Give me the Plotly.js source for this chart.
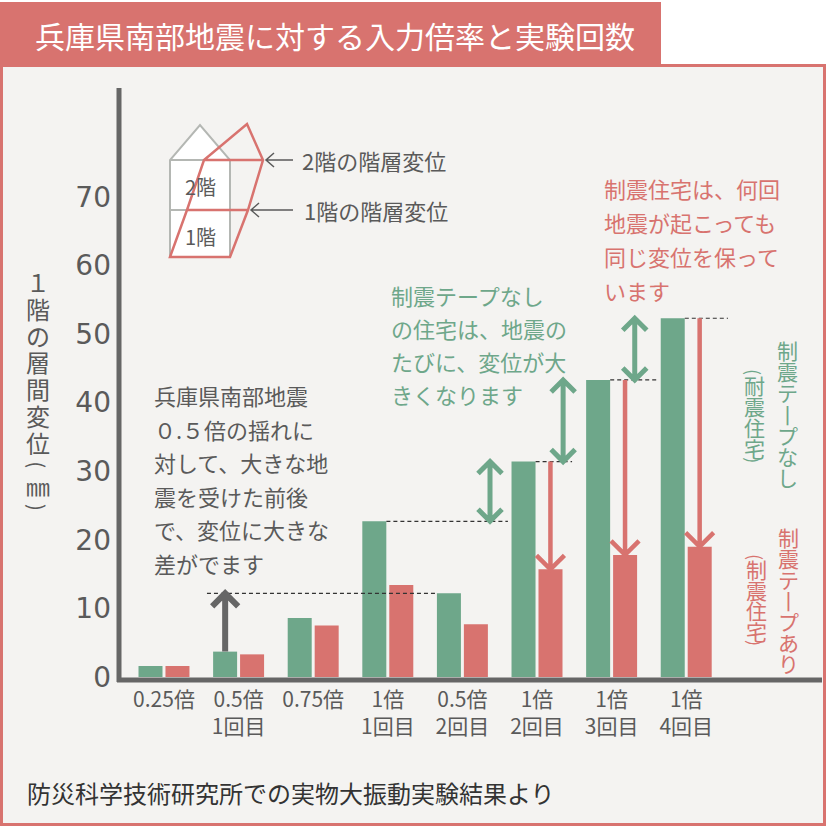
<!DOCTYPE html>
<html>
<head>
<meta charset="utf-8">
<script src="https://cdn.plot.ly/plotly-3.0.1.min.js"></script>
<style>
  html, body { margin: 0; padding: 0; background: #fff; }
  #chart { width: 826px; height: 826px; }
</style>
</head>
<body>
<div id="chart"></div>
<script>
// 入力倍率と実験回数（目盛り2段）
var rowTop = ['0.25倍', '0.5倍', '0.75倍', '1倍', '0.5倍', '1倍', '1倍', '1倍'];
var rowBottom = ['', '1回目', '', '1回目', '2回目', '2回目', '3回目', '4回目'];
// 1階の層間変位（mm）
var withoutTape = [1.6, 3.7, 8.6, 22.7, 12.2, 31.4, 43.3, 52.3];
var withTape = [1.6, 3.3, 7.5, 13.4, 7.7, 15.7, 17.8, 19.0];
var yTicks = [0, 10, 20, 30, 40, 50, 60, 70];

var GREEN = '#6ea78a', RED = '#d8736f', TEXT = '#5a5a5a', AXIS = '#666666';
var JP = '"Noto Sans CJK JP", "Noto Sans", sans-serif';
var W = 826;

var xRange = [-0.603, 8.82], yRange = [0, 85.57];
var plotL = 119, plotR = 822, plotT = 90, plotB = 677;
var PX_X = (xRange[1] - xRange[0]) / (plotR - plotL);
var PX_Y = (yRange[1] - yRange[0]) / (plotB - plotT);
var OFF = 0.18;   // 棒の中心のずれ（カテゴリ単位）

function px(x) { return x / W; }
function py(y) { return 1 - y / W; }

var idx = rowTop.map(function (_, i) { return i; });
var tickText = rowTop.map(function (t, i) {
    return rowBottom[i] ? t + '<br>' + rowBottom[i] : t;
});

var data = [{
    type: 'bar', x: idx, y: withoutTape, name: '制震テープなし',
    marker: { color: GREEN }, hoverinfo: 'skip'
}, {
    type: 'bar', x: idx, y: withTape, name: '制震テープあり',
    marker: { color: RED }, hoverinfo: 'skip'
}];

var shapes = [];
var annotations = [];

// 枠とタイトル帯
shapes.push({ type: 'rect', xref: 'paper', yref: 'paper', layer: 'below',
    x0: px(1.5), x1: px(824.5), y0: py(824.5), y1: py(65.5),
    fillcolor: '#f4f3f1', line: { color: RED, width: 3 } });
shapes.push({ type: 'rect', xref: 'paper', yref: 'paper', layer: 'below',
    x0: px(0), x1: px(661), y0: py(64), y1: py(2),
    fillcolor: RED, line: { width: 0 } });

// 軸線
shapes.push({ type: 'line', xref: 'paper', yref: 'paper', x0: px(119), x1: px(119),
    y0: py(88), y1: py(682), line: { color: AXIS, width: 5 } });
shapes.push({ type: 'line', xref: 'paper', yref: 'paper', x0: px(117), x1: px(822),
    y0: py(680), y1: py(680), line: { color: AXIS, width: 5 } });

// ピクセル座標の折れ線をpaper座標のpathに
function pathPx(pts, close) {
    var d = pts.map(function (p, i) {
        return (i ? 'L' : 'M') + px(p[0]) + ',' + py(p[1]);
    }).join(' ');
    return close ? d + ' Z' : d;
}

// 家のイラスト
shapes.push({ type: 'path', xref: 'paper', yref: 'paper',
    path: pathPx([[170, 257], [230, 257], [230, 160], [200, 125], [170, 160]], true),
    fillcolor: '#ffffff', line: { color: '#b4b7b3', width: 2 } });
shapes.push({ type: 'path', xref: 'paper', yref: 'paper',
    path: pathPx([[170, 210], [230, 210]]) + ' ' + pathPx([[170, 160], [230, 160]]),
    line: { color: '#b4b7b3', width: 2 } });
shapes.push({ type: 'path', xref: 'paper', yref: 'paper',
    path: pathPx([[170, 257], [187, 210], [204, 160], [247, 124], [263, 160], [248, 210], [230, 257]], true) +
        ' ' + pathPx([[187, 210], [248, 210]]) + ' ' + pathPx([[204, 160], [263, 160]]),
    line: { color: RED, width: 2.5 } });
shapes.push({ type: 'path', xref: 'paper', yref: 'paper',
    path: pathPx([[293, 160], [266, 160]]) + ' ' + pathPx([[274, 153], [266, 160], [274, 167]]),
    line: { color: TEXT, width: 1.5 } });
shapes.push({ type: 'path', xref: 'paper', yref: 'paper',
    path: pathPx([[293, 210], [251, 210]]) + ' ' + pathPx([[259, 203], [251, 210], [259, 217]]),
    line: { color: TEXT, width: 1.5 } });

// データ座標の矢印
function chevron(x, y, dir, halfW, h) {
    var yb = y - dir * h * PX_Y;
    return 'M' + (x - halfW * PX_X) + ',' + yb + ' L' + x + ',' + y + ' L' + (x + halfW * PX_X) + ',' + yb;
}
function dashed(x0, x1, y) {
    shapes.push({ type: 'line', xref: 'x', yref: 'y', x0: x0, x1: x1, y0: y, y1: y,
        line: { color: '#333333', width: 1.2, dash: '4px,3px' } });
}
function arrow(x, yFrom, yTo, color, width, size, both) {
    var dir = yTo > yFrom ? 1 : -1;
    var d = 'M' + x + ',' + yFrom + ' L' + x + ',' + yTo + ' ' + chevron(x, yTo, dir, size, size);
    if (both) d += ' ' + chevron(x, yFrom, -dir, size, size);
    shapes.push({ type: 'path', xref: 'x', yref: 'y', path: d, line: { color: color, width: width } });
}

dashed(0.576, 4 - OFF - 0.161, withoutTape[4]);
dashed(3 - OFF + 0.161, 4.61, withoutTape[3]);
dashed(5 - OFF + 0.161, 5.47, withoutTape[5]);
dashed(6 - OFF + 0.161, 6.61, withoutTape[6]);
dashed(7 - OFF + 0.161, 7.56, withoutTape[7]);

arrow(1 - OFF, withoutTape[1], withoutTape[4], AXIS, 6, 13, false);
arrow(4.37, withoutTape[3], withoutTape[5], GREEN, 5, 12, true);
arrow(5.35, withoutTape[5], withoutTape[6], GREEN, 5, 12, true);
arrow(6.31, withoutTape[6], withoutTape[7], GREEN, 5, 12, true);
[5, 6, 7].forEach(function (i) {
    arrow(i + OFF, withoutTape[i], withTape[i], RED, 4.5, 14, false);
});

// テキスト
function label(text, x, y, size, color, anchor, extra) {
    var a = { xref: 'paper', yref: 'paper', x: px(x), y: py(y), text: text,
        showarrow: false, xanchor: anchor || 'left', yanchor: 'middle',
        font: { family: JP, size: size, color: color } };
    for (var k in extra || {}) a[k] = extra[k];
    annotations.push(a);
}
function lines(list, x, y0, step, size, color) {
    list.forEach(function (t, i) { label(t, x, y0 + i * step, size, color); });
}
// 縦書き：連続する文字は1つの注記（行送り=step）、括弧は横向きの括弧を90度回転
function vertical(str, x, y0, step, size, color, pg) {
    var y = y0, run = [], runStart = y0;
    function flush() {
        if (!run.length) return;
        var body = run.map(function (c) {
            return '<span style="font-size:' + size + 'px">' + c + '</span>';
        }).join('<br>');
        label(body, x, runStart + (run.length - 1) * step / 2, step / 1.3, color, 'center');
        run = [];
    }
    var chars = Array.from(str);
    chars.forEach(function (ch, i) {
        var paren = ch === '(' || ch === ')';
        if (paren) {
            flush();
            label(ch, x, y, size * 0.85, color, 'center', { textangle: 90 });
        } else {
            if (!run.length) runStart = y;
            run.push(ch);
        }
        var next = chars[i + 1];
        if (next === undefined) return;
        var nextParen = next === '(' || next === ')';
        if (paren || nextParen) { flush(); y += step * pg; } else { y += step; }
    });
    flush();
}

label('兵庫県南部地震に対する入力倍率と実験回数', 33, 35, 30, '#ffffff');
label('防災科学技術研究所での実物大振動実験結果より', 25, 792, 24, '#333333');

label('2階', 200, 186, 20, TEXT, 'center');
label('1階', 200, 236, 20, TEXT, 'center');
label('2階の階層変位', 300, 160, 22, TEXT);
label('1階の階層変位', 302, 210, 22, TEXT);

lines(['兵庫県南部地震', '０.５倍の揺れに', '対して、大きな地', '震を受けた前後',
    'で、変位に大きな', '差がでます'], 152, 395, 33.5, 22, TEXT);
lines(['制震テープなし', 'の住宅は、地震の', 'たびに、変位が大', 'きくなります'],
    389, 295, 33, 22, GREEN);
lines(['制震住宅は、何回', '地震が起こっても', '同じ変位を保って', 'います'],
    602, 188, 34, 22, RED);

vertical('１階の層間変位(㎜)', 38, 282, 26.8, 24, TEXT, 0.8);
vertical('制震テ丨プなし', 787, 350, 21.2, 21, GREEN, 0.6);
vertical('(耐震住宅)', 754, 372, 21, 21, GREEN, 0.6);
vertical('制震テ丨プあり', 788, 537, 21, 21, RED, 0.6);
vertical('(制震住宅)', 756, 557, 20.5, 21, RED, 0.6);

var layout = {
    width: 826, height: 826,
    margin: { l: 0, r: 0, t: 0, b: 0 },
    paper_bgcolor: '#ffffff', plot_bgcolor: 'rgba(0,0,0,0)',
    showlegend: false, barmode: 'group', bargap: 0.277, bargroupgap: 0.11,
    hovermode: false,
    xaxis: {
        domain: [plotL / W, plotR / W], range: xRange,
        tickvals: idx, ticktext: tickText, ticks: '', ticklabelstandoff: 8,
        showgrid: false, zeroline: false, showline: false,
        tickfont: { family: JP, size: 21, color: TEXT }
    },
    yaxis: {
        domain: [1 - plotB / W, 1 - plotT / W], range: yRange,
        tickvals: yTicks, ticks: '', ticklabelstandoff: 7,
        showgrid: false, zeroline: false, showline: false,
        tickfont: { family: '"DejaVu Sans", sans-serif', size: 28, color: TEXT }
    },
    shapes: shapes,
    annotations: annotations
};

Plotly.newPlot('chart', data, layout, { staticPlot: true });
</script>
</body>
</html>
